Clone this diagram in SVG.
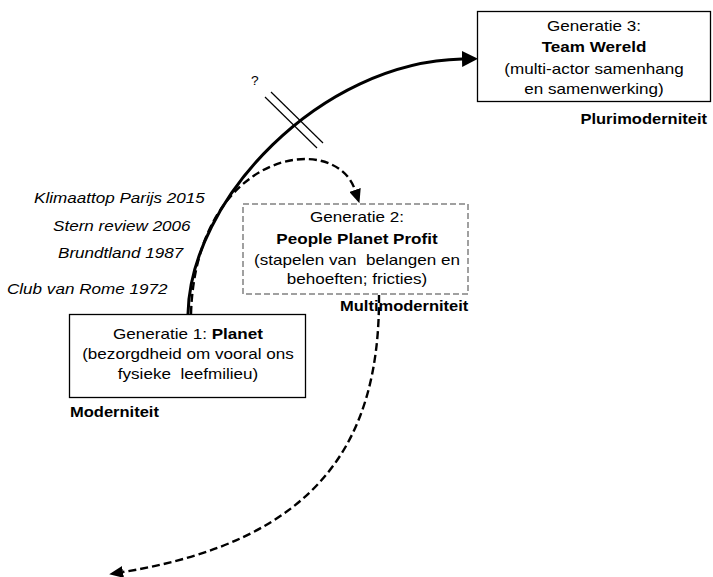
<svg xmlns="http://www.w3.org/2000/svg" width="713" height="577" viewBox="0 0 713 577">
  <style>
    text { font-family: "Liberation Sans", Arial, sans-serif; font-size: 14px; fill: #000; white-space: pre; }
    .b { font-weight: bold; }
    .i { font-style: italic; }
    .box { fill: #fff; stroke: #000; stroke-width: 1.3; }
    .box2 { fill: #fff; stroke: #a0a0a0; stroke-width: 2; stroke-dasharray: 6 3; }
    .solid { fill: none; stroke: #000; stroke-width: 3; }
    .dash { fill: none; stroke: #000; stroke-width: 2.4; stroke-dasharray: 8 4; }
    .thin { fill: none; stroke: #000; stroke-width: 1.2; }
  </style>
  <defs>
    <marker id="headSolid" markerUnits="userSpaceOnUse" markerWidth="16" markerHeight="16" refX="0" refY="8" orient="auto">
      <path d="M0,0 L16,8 L0,16 z" fill="#000"/>
    </marker>
    <marker id="headDash" markerUnits="userSpaceOnUse" markerWidth="14" markerHeight="12" refX="0" refY="6" orient="auto">
      <path d="M0,0 L14,6 L0,12 z" fill="#000"/>
    </marker>
  </defs>

  <!-- Generation 3 -->
  <g id="gen3">
    <rect class="box" x="477.5" y="11.5" width="233" height="90"/>
    <g transform="translate(594 0) scale(1.22 1)" text-anchor="middle">
      <text x="0" y="31">Generatie 3:</text>
      <text class="b" x="0" y="52">Team Wereld</text>
      <text x="0" y="74">(multi-actor samenhang</text>
      <text x="0" y="94">en samenwerking)</text>
    </g>
    <text class="b" text-anchor="end" transform="translate(707 124) scale(1.18 1)" x="0" y="0">Plurimoderniteit</text>
  </g>

  <!-- Generation 2 -->
  <g id="gen2">
    <rect class="box2" x="243" y="204" width="225" height="90"/>
    <g transform="translate(357 0) scale(1.22 1)" text-anchor="middle">
      <text x="0" y="222">Generatie 2:</text>
      <text class="b" x="0" y="244">People Planet Profit</text>
      <text x="0" y="265" xml:space="preserve">(stapelen van  belangen en</text>
      <text x="0" y="284">behoeften; fricties)</text>
    </g>
    <text class="b" transform="translate(340 311) scale(1.18 1)" x="0" y="0">Multimoderniteit</text>
  </g>

  <!-- Generation 1 -->
  <g id="gen1">
    <rect class="box" x="69.5" y="314.5" width="236" height="83"/>
    <g transform="translate(188 0) scale(1.22 1)" text-anchor="middle">
      <text x="0" y="339">Generatie 1: <tspan class="b">Planet</tspan></text>
      <text x="0" y="359">(bezorgdheid om vooral ons</text>
      <text x="0" y="379" xml:space="preserve">fysieke  leefmilieu)</text>
    </g>
    <text class="b" transform="translate(70 417) scale(1.18 1)" x="0" y="0">Moderniteit</text>
  </g>

  <!-- Milestones along the curve -->
  <g id="milestones">
    <text class="i" transform="translate(34 203) scale(1.22 1)" x="0" y="0">Klimaattop Parijs 2015</text>
    <text class="i" transform="translate(53 231) scale(1.22 1)" x="0" y="0">Stern review 2006</text>
    <text class="i" transform="translate(58 258) scale(1.22 1)" x="0" y="0">Brundtland 1987</text>
    <text class="i" transform="translate(7 294) scale(1.22 1)" x="0" y="0">Club van Rome 1972</text>
  </g>

  <!-- Interruption mark -->
  <g id="break">
    <line class="thin" x1="265" y1="97" x2="317" y2="148"/>
    <line class="thin" x1="271" y1="92" x2="323" y2="143"/>
    <text transform="translate(251 85) scale(1.15 1)" x="0" y="0" style="font-size:12px">?</text>
  </g>

  <!-- Connectors -->
  <g id="connectors">
    <path class="solid" d="M188,314 C190,200 320,62 462,59" marker-end="url(#headSolid)"/>
    <path class="dash" d="M191,314 C196,150 335,130 355,190" marker-end="url(#headDash)"/>
    <path class="dash" d="M379,295 C380,440 320,540 123,572" marker-end="url(#headDash)"/>
  </g>
</svg>
